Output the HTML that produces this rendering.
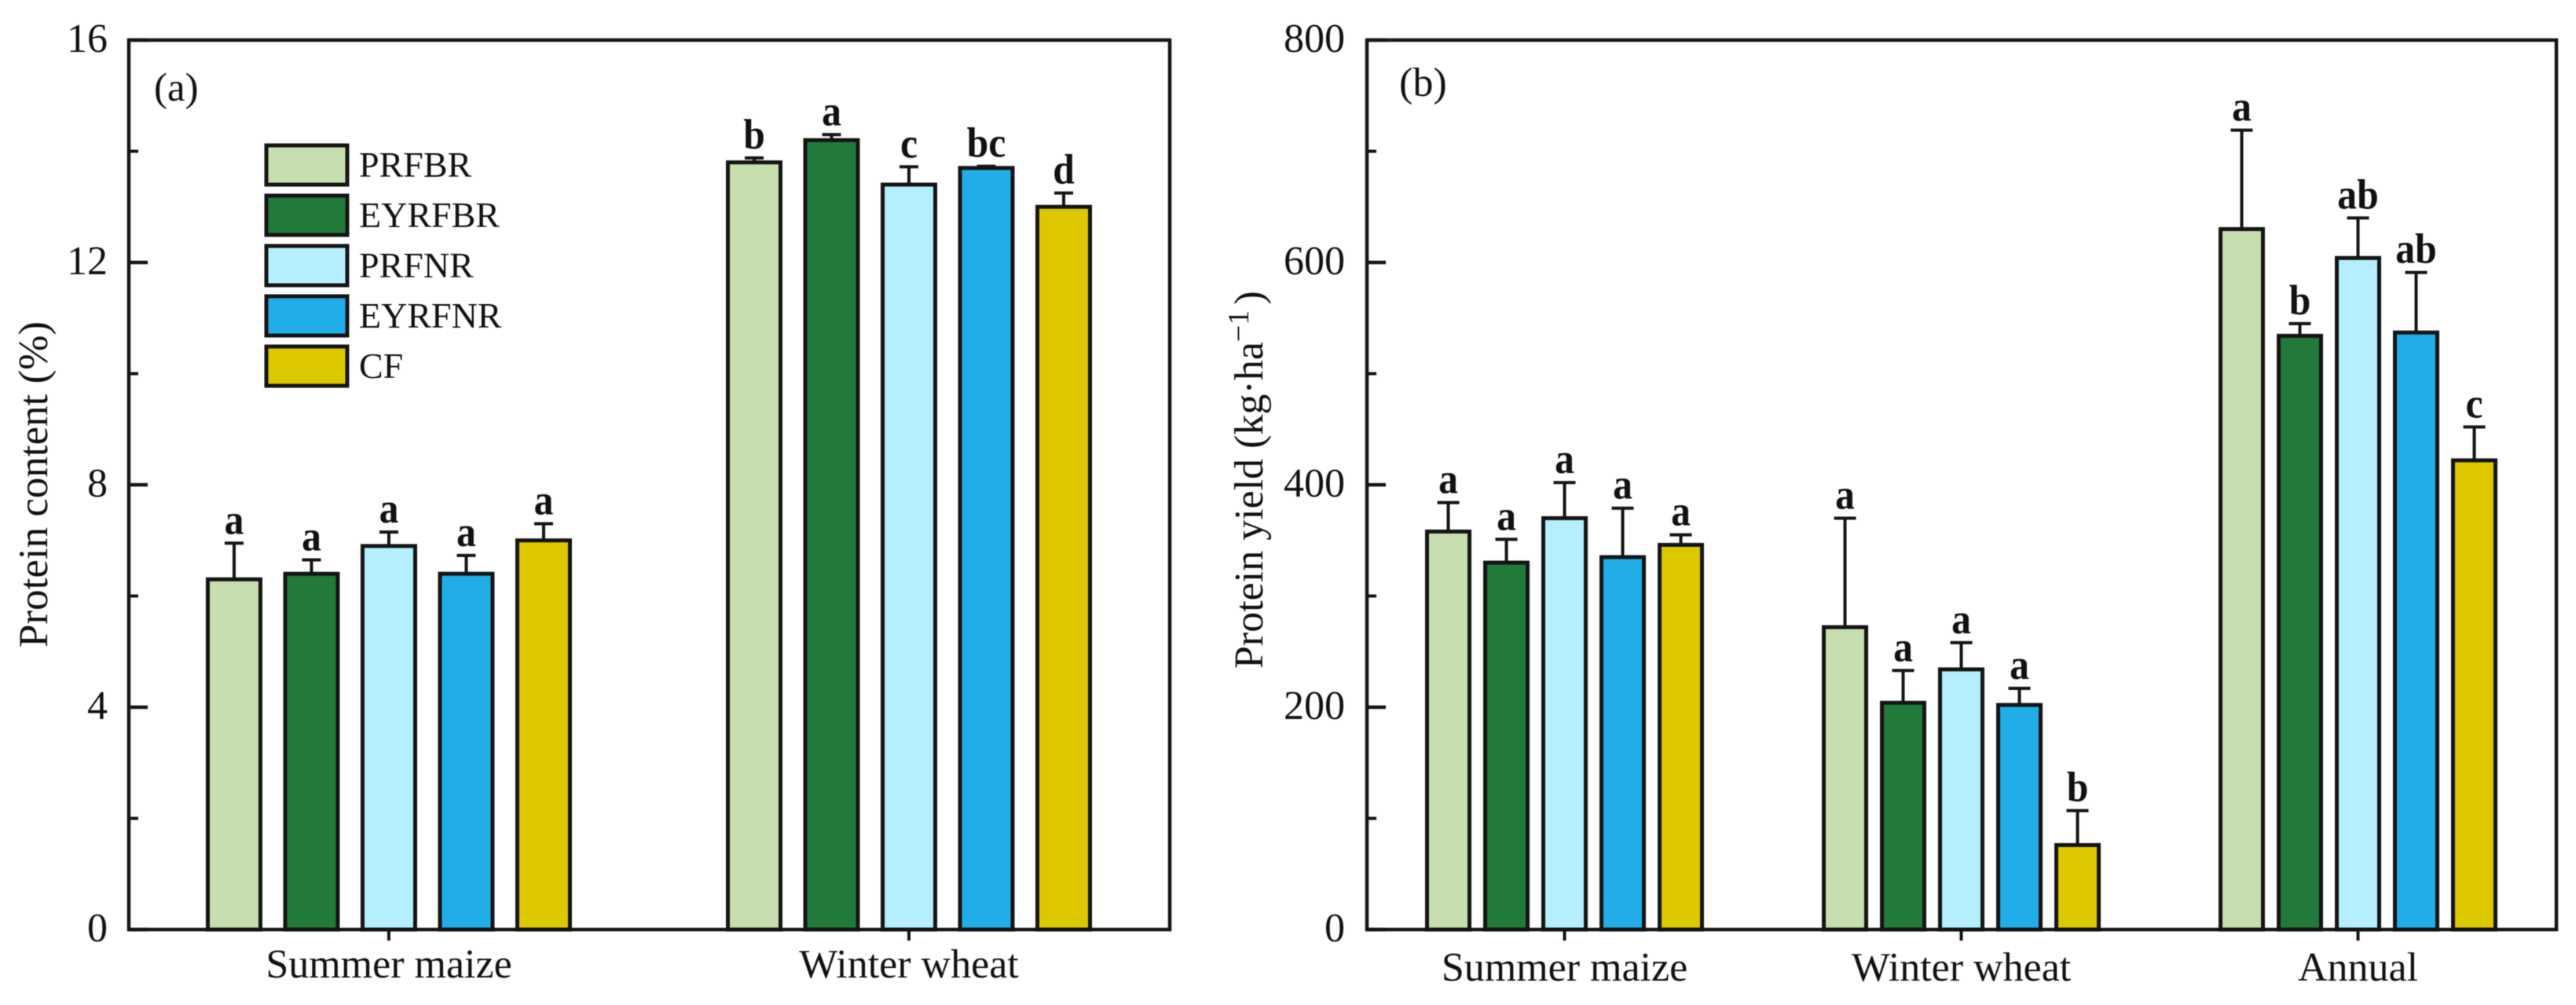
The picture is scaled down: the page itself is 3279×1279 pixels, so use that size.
<!DOCTYPE html>
<html lang="en">
<head>
<meta charset="utf-8">
<title>Protein content and protein yield</title>
<style>
  html, body { margin: 0; padding: 0; background: #fff; width: 3279px; height: 1279px; overflow: hidden; }
  svg { display: block; filter: blur(0.6px); }
  text { font-family: "Liberation Serif", serif; fill: #111; }
</style>
</head>
<body>
<svg id="chart" xmlns="http://www.w3.org/2000/svg" width="3279" height="1279" viewBox="0 0 3279 1279">
  <rect x="0" y="0" width="3279" height="1279" fill="#ffffff"/>
  <text transform="translate(60 824) rotate(-90)" font-size="53">Protein content (%)</text>
  <text x="196" y="128" font-size="51">(a)</text>
  <text transform="translate(1607 851) rotate(-90)" font-size="52">Protein yield (kg·ha<tspan dy="-18" font-size="38">−1</tspan><tspan dy="18" dx="7">)</tspan></text>
  <text x="1781" y="122" font-size="52">(b)</text>
</svg>
<script>
const treatments = ['PRFBR', 'EYRFBR', 'PRFNR', 'EYRFNR', 'CF'];
const treatmentColors = ['#C7DEAE', '#217A3A', '#B4EEFF', '#21ADE8', '#DDC800'];

const aCategories = ['Summer maize', 'Winter wheat'];
const aYTicks = [0, 4, 8, 12, 16];
const aYMinorTicks = [2, 6, 10, 14];
const aPRFBR = [6.3, 13.8];
const aEYRFBR = [6.4, 14.2];
const aPRFNR = [6.9, 13.4];
const aEYRFNR = [6.4, 13.7];
const aCF = [7.0, 13.0];
const aPRFBRErr = [0.65, 0.08];
const aEYRFBRErr = [0.25, 0.1];
const aPRFNRErr = [0.25, 0.32];
const aEYRFNRErr = [0.33, 0.03];
const aCFErr = [0.3, 0.25];
const aPRFBRSig = ['a', 'b'];
const aEYRFBRSig = ['a', 'a'];
const aPRFNRSig = ['a', 'c'];
const aEYRFNRSig = ['a', 'bc'];
const aCFSig = ['a', 'd'];

const bCategories = ['Summer maize', 'Winter wheat', 'Annual'];
const bYTicks = [0, 200, 400, 600, 800];
const bYMinorTicks = [100, 300, 500, 700];
const bPRFBR = [358, 272, 630];
const bEYRFBR = [330, 204, 534];
const bPRFNR = [370, 234, 604];
const bEYRFNR = [335, 202, 537];
const bCF = [346, 76, 422];
const bPRFBRErr = [26, 98, 89];
const bEYRFBRErr = [21, 29, 11];
const bPRFNRErr = [32, 24, 36];
const bEYRFNRErr = [44, 15, 54];
const bCFErr = [9, 31, 30];
const bPRFBRSig = ['a', 'a', 'a'];
const bEYRFBRSig = ['a', 'a', 'b'];
const bPRFNRSig = ['a', 'a', 'ab'];
const bEYRFNRSig = ['a', 'a', 'ab'];
const bCFSig = ['a', 'b', 'c'];

const svg = document.getElementById('chart');
const NS = 'http://www.w3.org/2000/svg';
const INK = '#141414';

function make(tag, attrs, text) {
  const node = document.createElementNS(NS, tag);
  for (const key in attrs) node.setAttribute(key, attrs[key]);
  if (text !== undefined) node.textContent = text;
  svg.appendChild(node);
  return node;
}

function drawPanel(p) {
  const yOf = v => p.bottom - (v / p.yMax) * (p.bottom - p.top);
  const groupX = i => p.firstGroup + i * p.groupStep;
  const barX = (i, j) => groupX(i) + (j - 2) * p.barStep;

  p.values.forEach((series, j) => {
    series.forEach((value, i) => {
      const cx = barX(i, j);
      const errTop = yOf(value + p.errors[j][i]);

      const stem = make('line', { x1: cx, x2: cx, y1: yOf(value), y2: errTop, stroke: INK, 'stroke-width': 4 });
      
      

      const cap = make('line', { x1: cx - p.capHalf, x2: cx + p.capHalf, y1: errTop, y2: errTop, stroke: INK, 'stroke-width': 4 });
      
      

      const bar = make('rect', { x: cx - p.barWidth / 2, y: yOf(value), width: p.barWidth, height: yOf(0) - yOf(value), fill: treatmentColors[j], stroke: INK, 'stroke-width': 5 });
      
      

      const sig = make('text', { transform: 'translate(' + cx + ' ' + (errTop - 12) + ') scale(0.92 1)', 'text-anchor': 'middle', 'font-size': 54, 'font-weight': 'bold' }, p.sig[j][i]);
      
      
    });
  });

  const frame = make('rect', { x: p.left, y: p.top, width: p.right - p.left, height: p.bottom - p.top, fill: 'none', stroke: INK, 'stroke-width': 4.5 });
  
  

  p.yTicks.forEach(v => {
    const tick = make('line', { x1: p.left, x2: p.left + 24, y1: yOf(v), y2: yOf(v), stroke: INK, 'stroke-width': 4.5 });
    
    

    const label = make('text', { x: p.labelRight, y: yOf(v) + 15, 'text-anchor': 'end', 'font-size': 52 }, String(v));
    
    
  });

  p.yMinor.forEach(v => {
    const tick = make('line', { x1: p.left, x2: p.left + 12, y1: yOf(v), y2: yOf(v), stroke: INK, 'stroke-width': 4 });
    
    
  });

  p.categories.forEach((name, i) => {
    const tick = make('line', { x1: groupX(i), x2: groupX(i), y1: p.bottom, y2: p.bottom + 14, stroke: INK, 'stroke-width': 4 });
    
    

    const label = make('text', { x: groupX(i), y: p.xBaseline, 'text-anchor': 'middle', 'font-size': 52 }, name);
    
    
  });
}

drawPanel({
  id: 'panel-a', left: 164, right: 1489, top: 51, bottom: 1183, yMax: 16,
  firstGroup: 495, groupStep: 662, barStep: 98.5, barWidth: 67, capHalf: 12,
  labelRight: 137, xBaseline: 1244,
  categories: aCategories, yTicks: aYTicks, yMinor: aYMinorTicks,
  values: [aPRFBR, aEYRFBR, aPRFNR, aEYRFNR, aCF],
  errors: [aPRFBRErr, aEYRFBRErr, aPRFNRErr, aEYRFNRErr, aCFErr],
  sig: [aPRFBRSig, aEYRFBRSig, aPRFNRSig, aEYRFNRSig, aCFSig]
});

drawPanel({
  id: 'panel-b', left: 1740, right: 3254, top: 51, bottom: 1183, yMax: 800,
  firstGroup: 1991.5, groupStep: 505, barStep: 74, barWidth: 54, capHalf: 14,
  labelRight: 1712, xBaseline: 1248,
  categories: bCategories, yTicks: bYTicks, yMinor: bYMinorTicks,
  values: [bPRFBR, bEYRFBR, bPRFNR, bEYRFNR, bCF],
  errors: [bPRFBRErr, bEYRFBRErr, bPRFNRErr, bEYRFNRErr, bCFErr],
  sig: [bPRFBRSig, bEYRFBRSig, bPRFNRSig, bEYRFNRSig, bCFSig]
});

treatments.forEach((name, j) => {
  const top = 185 + j * 64;

  const swatch = make('rect', { x: 339, y: top, width: 103, height: 50, fill: treatmentColors[j], stroke: INK, 'stroke-width': 5 });
  
  

  const label = make('text', { x: 457, y: top + 40, 'font-size': 46 }, name);
  
  
});
</script>
</body>
</html>
